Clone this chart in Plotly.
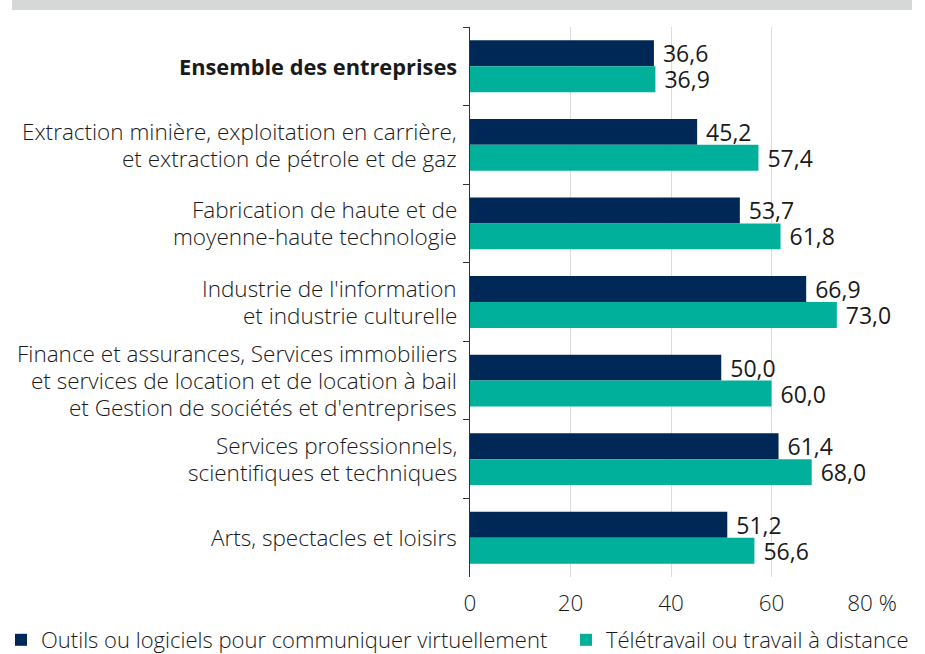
import plotly.graph_objects as go

categories = [
    "<b>Ensemble des entreprises</b>",
    "Extraction minière, exploitation en carrière,<br>et extraction de pétrole et de gaz",
    "Fabrication de haute et de<br>moyenne-haute technologie",
    "Industrie de l'information<br>et industrie culturelle",
    "Finance et assurances, Services immobiliers<br>et services de location et de location à bail<br>et Gestion de sociétés et d'entreprises",
    "Services professionnels,<br>scientifiques et techniques",
    "Arts, spectacles et loisirs",
]
outils = [36.6, 45.2, 53.7, 66.9, 50.0, 61.4, 51.2]
teletravail = [36.9, 57.4, 61.8, 73.0, 60.0, 68.0, 56.6]
series_names = ["Outils ou logiciels pour communiquer virtuellement",
                "Télétravail ou travail à distance"]
tick_vals = [0, 20, 40, 60, 80]
tick_text = ["0", "20", "40", "60", "80 %"]

NAVY = "#002856"
TEAL = "#00b09b"
TXT = "#1a1a1a"
FONT = "Open Sans"
LBL = 22.5

W, H = 925, 654
L, R, T, B = 470, 53, 27, 77
PW, PH = W - L - R, H - T - B

fig = go.Figure()
for k, (name, vals, col) in enumerate([(series_names[0], outils, NAVY),
                                        (series_names[1], teletravail, TEAL)]):
    fig.add_trace(go.Bar(
        y=categories, x=vals, orientation="h", name=name,
        legend="legend" if k == 0 else "legend2",
        marker=dict(color=col, line=dict(width=0)),
        texttemplate="\u00a0%{x:.1f}", textposition="outside",
        textfont=dict(family=FONT, size=23, color=TXT),
        cliponaxis=False, constraintext="none",
        hoverinfo="skip",
    ))

annotations = []
for cat in categories:
    lines = cat.split("<br>")
    n = len(lines)
    bold = "<b>" in cat
    for j, line in enumerate(lines):
        annotations.append(dict(
            x=0, xref="paper", xanchor="right", xshift=-11,
            y=cat, yref="y", yanchor="middle",
            yshift=((n - 1) / 2 - j) * 27,
            text=line, showarrow=False,
            font=dict(family=FONT, size=21.8 if bold else LBL, color=TXT,
                      weight=600 if bold else 300),
        ))

leg_common = dict(orientation="h", xref="container", yref="container",
                  y=1 - 640 / H, xanchor="left", yanchor="middle",
                  font=dict(family=FONT, size=22, color=TXT, weight=300),
                  bgcolor="rgba(0,0,0,0)")

fig.update_layout(
    width=W, height=H,
    margin=dict(l=L, r=R, t=T, b=B, autoexpand=False),
    paper_bgcolor="white", plot_bgcolor="white",
    barmode="group", bargap=0.34, bargroupgap=0,
    separators=", ",
    font=dict(family=FONT, color=TXT),
    annotations=annotations,
    showlegend=True,
    legend=dict(x=1 / W, **leg_common),
    legend2=dict(x=566 / W, **leg_common),
    shapes=[dict(type="rect", xref="paper", yref="paper",
                 x0=(12 - L) / PW, x1=(912 - L) / PW,
                 y0=1 + (T - 10) / PH, y1=1 + T / PH,
                 fillcolor="#d6d8d7", line=dict(width=0), layer="above")],
)
fig.update_xaxes(range=[0, 80], tickvals=tick_vals, ticktext=tick_text,
                 showgrid=True, gridcolor="#dcdcdc", gridwidth=1,
                 zeroline=False, showline=False, ticks="",
                 ticklabelstandoff=10,
                 tickfont=dict(family=FONT, size=LBL, color=TXT, weight=300))
fig.update_yaxes(autorange="reversed", showticklabels=False,
                 showline=True, linecolor="#333333", linewidth=1.2,
                 ticks="outside", tickson="boundaries", ticklen=6,
                 tickcolor="#333333", showgrid=False, zeroline=False)

fig.write_html("out.html", config={"displayModeBar": False},
               post_script="document.body.style.margin='0';document.body.style.overflow='hidden';")
